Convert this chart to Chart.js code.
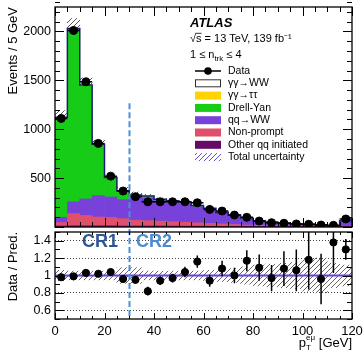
<!DOCTYPE html>
<html>
<head>
<meta charset="utf-8">
<script src="https://cdn.jsdelivr.net/npm/chart.js@4.4.1/dist/chart.umd.min.js"></script>
<style>
  body { margin: 0; background: #fff; }
  canvas { position: absolute; left: 0; }
  #main { top: 0; }
  #ratio { top: 229px; }
</style>
</head>
<body>
<canvas id="main" width="363" height="229"></canvas>
<canvas id="ratio" width="363" height="130"></canvas>
<script>
// p_T^emu bins, 5 GeV wide
const binCenters = [2.5, 7.5, 12.5, 17.5, 22.5, 27.5, 32.5, 37.5, 42.5, 47.5, 52.5, 57.5,
  62.5, 67.5, 72.5, 77.5, 82.5, 87.5, 92.5, 97.5, 102.5, 107.5, 112.5, 117.5];
const binHalfWidth = 2.5;

const dataEvents = [1110, 2010, 1485, 855, 520, 368, 310, 258, 258, 258, 258, 248,
  180, 163, 122, 99, 61, 44, 38, 31, 28, 20, 17, 82];

// stacked predictions (bottom to top)
const otherQQ   = [10, 12, 12, 12, 12, 10, 10, 10, 10, 9, 8, 8, 7, 6, 5, 5, 4, 4, 3, 3, 3, 2, 2, 3];
const nonPrompt = [35, 125, 105, 90, 85, 75, 60, 55, 50, 45, 40, 35, 30, 25, 20, 15, 12, 10, 8, 6, 5, 4, 3, 6];
const qqWW      = [55, 120, 170, 220, 210, 195, 230, 230, 205, 200, 195, 165, 145, 110, 88, 65, 42, 33, 25, 18, 17, 14, 5, 50];
const drellYan  = [1020, 1770, 1160, 520, 195, 88, 25, 20, 15, 12, 10, 8, 6, 5, 4, 3, 3, 2, 2, 1, 1, 1, 1, 2];
const aaTauTau  = [2, 3, 3, 2, 2, 2, 1, 1, 1, 1, 1, 1, 1, 1, 1, 1, 1, 1, 1, 1, 1, 1, 1, 1];
const aaWW      = [1, 1, 2, 2, 2, 2, 2, 2, 2, 2, 2, 2, 2, 2, 2, 2, 1, 1, 1, 1, 1, 1, 1, 1];

// ratio panel
const ratioValues = [0.98, 0.99, 1.03, 1.02, 1.04, 0.96, 0.95, 0.82, 0.94, 0.97, 1.04, 1.16,
  0.94, 1.08, 1.00, 1.17, 1.09, 0.97, 1.08, 1.06, 1.18, 0.96, 1.38, 1.30];
const ratioErrors = [0.02, 0.02, 0.02, 0.03, 0.03, 0.03, 0.04, 0.05, 0.05, 0.05, 0.06, 0.07,
  0.07, 0.09, 0.09, 0.12, 0.15, 0.15, 0.20, 0.24, 0.34, 0.29, 0.35, 0.12];
const relUncertainty = [0.06, 0.05, 0.05, 0.05, 0.05, 0.09, 0.09, 0.05, 0.05, 0.05, 0.05, 0.05,
  0.06, 0.07, 0.08, 0.10, 0.12, 0.13, 0.14, 0.15, 0.18, 0.20, 0.14, 0.12];

const xTicks = [0, 20, 40, 60, 80, 100, 120];
const yTicksMain = [500, 1000, 1500, 2000];
const yTicksRatio = [0.6, 0.8, 1, 1.2, 1.4];
const crBoundary = 30;

const legendLabels = ['Data', 'γγ→WW', 'γγ→ττ', 'Drell-Yan', 'qq→WW', 'Non-prompt', 'Other qq initiated', 'Total uncertainty'];
const colors = {
  aaWW: '#ffffff', aaTauTau: '#ffd400', dy: '#16cc16', qqWW: '#7741da',
  nonPrompt: '#e0506a', other: '#650a66', outline: '#1c1f70', unity: '#6a3fe6',
  dashed: '#4a8fd8', cr1: '#2b5595', cr2: '#4a8bd4'
};

const FONT = '"Liberation Sans", Arial, Helvetica, sans-serif';
Chart.defaults.font.family = FONT;
Chart.defaults.font.size = 13;
Chart.defaults.color = '#000';

const totals = binCenters.map((_, i) =>
  otherQQ[i] + nonPrompt[i] + qqWW[i] + drellYan[i] + aaTauTau[i] + aaWW[i]);

function makeHatch(ctx, color) {
  const c = document.createElement('canvas');
  c.width = 5; c.height = 5;
  const g = c.getContext('2d');
  g.strokeStyle = color;
  g.lineWidth = 1;
  g.beginPath();
  g.moveTo(0, 5); g.lineTo(5, 0);
  g.moveTo(-1, 1); g.lineTo(1, -1);
  g.moveTo(4, 6); g.lineTo(6, 4);
  g.stroke();
  return ctx.createPattern(c, 'repeat');
}

// keep the plot frame exactly where the layout padding puts it
const noScalePadding = s => {
  s.paddingTop = 0; s.paddingBottom = 0; s.paddingLeft = 0; s.paddingRight = 0;
};

// ROOT style inner ticks + frame
const frameTicks = {
  id: 'frameTicks',
  afterDatasetsDraw(chart, args, o) {
    const { ctx, chartArea: a, scales } = chart;
    const xs = scales.x, ys = scales.y;
    ctx.save();
    ctx.strokeStyle = '#000';
    ctx.lineWidth = 1;
    ctx.beginPath();
    const nx = Math.round((xs.max - xs.min) / o.xMinor);
    for (let k = 0; k <= nx; k++) {
      const v = xs.min + k * o.xMinor;
      const p = Math.round(xs.getPixelForValue(v)) + 0.5;
      const r = v / o.xMajor;
      const len = Math.abs(r - Math.round(r)) < 1e-6 ? o.xMajorLen : o.xMinorLen;
      ctx.moveTo(p, a.bottom); ctx.lineTo(p, a.bottom - len);
      ctx.moveTo(p, a.top); ctx.lineTo(p, a.top + len);
    }
    const ny = Math.round((ys.max - ys.min) / o.yMinor);
    for (let k = 0; k <= ny; k++) {
      const v = ys.min + k * o.yMinor;
      const p = Math.round(ys.getPixelForValue(v)) + 0.5;
      const r = v / o.yMajor;
      const len = Math.abs(r - Math.round(r)) < 1e-6 ? o.yMajorLen : o.yMinorLen;
      ctx.moveTo(a.left, p); ctx.lineTo(a.left + len, p);
      ctx.moveTo(a.right, p); ctx.lineTo(a.right - len, p);
    }
    ctx.stroke();
    ctx.lineWidth = 1.3;
    ctx.strokeRect(a.left, a.top, a.right - a.left, a.bottom - a.top);
    ctx.restore();
  }
};

// vertical error bars (and optional bin-width bars) for datasets carrying "errors"
const errorBars = {
  id: 'errorBars',
  afterDatasetsDraw(chart) {
    const { ctx, chartArea: a, scales } = chart;
    ctx.save();
    ctx.beginPath();
    ctx.rect(a.left, a.top, a.right - a.left, a.bottom - a.top);
    ctx.clip();
    chart.data.datasets.forEach((ds) => {
      if (!ds.errors) return;
      ctx.strokeStyle = '#000';
      ctx.lineWidth = 1.5;
      ctx.beginPath();
      ds.data.forEach((pt, i) => {
        const px = scales.x.getPixelForValue(pt.x);
        const e = ds.errors[i];
        ctx.moveTo(px, scales.y.getPixelForValue(pt.y + e));
        ctx.lineTo(px, scales.y.getPixelForValue(pt.y - e));
        if (ds.xBars) {
          const py = scales.y.getPixelForValue(pt.y);
          ctx.moveTo(scales.x.getPixelForValue(pt.x - binHalfWidth), py);
          ctx.lineTo(scales.x.getPixelForValue(pt.x + binHalfWidth), py);
        }
      });
      ctx.stroke();
    });
    ctx.restore();
  }
};

const crLine = {
  id: 'crLine',
  afterDatasetsDraw(chart, args, o) {
    const { ctx, chartArea: a, scales } = chart;
    const x = Math.round(scales.x.getPixelForValue(crBoundary)) + 0.5;
    const y0 = o.fromValue != null ? scales.y.getPixelForValue(o.fromValue) : 0;
    const y1 = o.toCanvasBottom ? chart.height : a.bottom;
    ctx.save();
    ctx.strokeStyle = colors.dashed;
    ctx.lineWidth = 2;
    ctx.setLineDash([6, 3]);
    ctx.beginPath();
    ctx.moveTo(x, y0); ctx.lineTo(x, y1);
    ctx.stroke();
    ctx.restore();
  }
};

function drawScript(ctx, parts, x, y) {
  let cx = x;
  parts.forEach(([t, size, dy, weight]) => {
    ctx.font = (weight || '') + ' ' + size + 'px ' + FONT;
    ctx.fillText(t, cx, y + dy);
    cx += ctx.measureText(t).width;
  });
  return cx - x;
}
function measureScript(ctx, parts) {
  let w = 0;
  parts.forEach(([t, size, dy, weight]) => {
    ctx.font = (weight || '') + ' ' + size + 'px ' + FONT;
    w += ctx.measureText(t).width;
  });
  return w;
}

const mainTexts = {
  id: 'mainTexts',
  afterDraw(chart) {
    const { ctx } = chart;
    const hatchLegend = makeHatch(ctx, '#5a4fcf');
    ctx.save();
    ctx.fillStyle = '#000';
    ctx.textBaseline = 'alphabetic';
    ctx.textAlign = 'left';
    ctx.font = 'italic bold 13px ' + FONT;
    ctx.fillText('ATLAS', 190, 27);
    ctx.font = '11px ' + FONT;
    ctx.fillText('√s = 13 TeV, 139 fb⁻¹', 190, 41.5);
    const rw = ctx.measureText('√').width;
    const sw = ctx.measureText('s').width;
    ctx.lineWidth = 0.8;
    ctx.beginPath();
    ctx.moveTo(190 + rw - 0.5, 33.3); ctx.lineTo(190 + rw + sw, 33.3);
    ctx.stroke();
    drawScript(ctx, [['1 ≤ n', 11, 0], ['trk', 8, 3], [' ≤ 4', 11, 0]], 190, 58);

    // legend
    const sx = 195, sw2 = 26, tx = 228;
    ctx.font = '10.5px ' + FONT;
    ctx.textBaseline = 'middle';
    const fills = [null, colors.aaWW, colors.aaTauTau, colors.dy, colors.qqWW, colors.nonPrompt, colors.other, null];
    legendLabels.forEach((lab, i) => {
      const y = 71 + i * 12.3;
      if (i === 0) {
        ctx.strokeStyle = '#000'; ctx.lineWidth = 1.5;
        ctx.beginPath(); ctx.moveTo(sx, y); ctx.lineTo(sx + sw2, y); ctx.stroke();
        ctx.beginPath(); ctx.arc(sx + sw2 / 2, y, 3.8, 0, Math.PI * 2); ctx.fillStyle = '#000'; ctx.fill();
      } else if (i === 7) {
        ctx.fillStyle = hatchLegend;
        ctx.fillRect(sx, y - 4, sw2, 8);
      } else {
        ctx.fillStyle = fills[i];
        ctx.fillRect(sx, y - 4, sw2, 8);
        if (i === 1) { ctx.strokeStyle = '#333'; ctx.lineWidth = 1; ctx.strokeRect(sx + 0.5, y - 3.5, sw2 - 1, 7); }
      }
      ctx.fillStyle = '#000';
      ctx.fillText(lab, tx, y);
    });
    ctx.restore();
  }
};

const ratioTexts = {
  id: 'ratioTexts',
  afterDraw(chart) {
    const { ctx, scales } = chart;
    ctx.save();
    ctx.textAlign = 'center';
    ctx.textBaseline = 'alphabetic';
    ctx.font = 'bold 18px ' + FONT;
    const ty = scales.y.getPixelForValue(1.33);
    ctx.fillStyle = colors.cr1;
    ctx.fillText('CR1', scales.x.getPixelForValue(18.2), ty);
    ctx.fillStyle = colors.cr2;
    ctx.fillText('CR2', scales.x.getPixelForValue(40), ty);
    // x title  p_T^{e mu} [GeV]
    ctx.textAlign = 'left';
    ctx.fillStyle = '#000';
    const a = chart.chartArea;
    const parts1 = [['p', 13, 0]];
    const rest = [[' [GeV]', 13, 0]];
    ctx.font = '8px ' + FONT;
    const scriptW = Math.max(ctx.measureText('T').width, ctx.measureText('eμ').width);
    const total = measureScript(ctx, parts1) + scriptW + measureScript(ctx, rest);
    let x = a.right - total;
    const base = 347 - 229;
    x += drawScript(ctx, parts1, x, base);
    ctx.font = '8px ' + FONT;
    ctx.fillText('eμ', x, base - 7);
    ctx.fillText('T', x, base + 3);
    x += scriptW;
    drawScript(ctx, rest, x, base);
    ctx.restore();
  }
};

// ---------------- main panel ----------------
const mainCtx = document.getElementById('main').getContext('2d');
const hatchMain = makeHatch(mainCtx, '#555');
const pts = arr => binCenters.map((x, i) => ({ x, y: arr[i] }));
const outline = binCenters.map((x, i) => ({ x: x - binHalfWidth, y: totals[i] }));
outline.push({ x: binCenters[binCenters.length - 1] + binHalfWidth, y: totals[totals.length - 1] });

const barDs = (label, arr, color) => ({
  type: 'bar', label, data: pts(arr), backgroundColor: color, borderWidth: 0,
  stack: 'mc', grouped: false, barPercentage: 1, categoryPercentage: 1
});

new Chart(mainCtx, {
  type: 'bar',
  data: {
    datasets: [
      {
        type: 'line', label: 'Data', data: pts(dataEvents), showLine: false,
        pointRadius: 4, pointBackgroundColor: '#000', pointBorderColor: '#000',
        stack: 'data', xBars: true,
        errors: dataEvents.map((d, i) => d * ratioErrors[i] / ratioValues[i])
      },
      {
        type: 'line', label: 'outline', data: outline, stepped: 'before',
        borderColor: colors.outline, borderWidth: 1.5, pointRadius: 0, stack: 'outline'
      },
      barDs('Other qq initiated', otherQQ, colors.other),
      barDs('Non-prompt', nonPrompt, colors.nonPrompt),
      barDs('qq→WW', qqWW, colors.qqWW),
      barDs('Drell-Yan', drellYan, colors.dy),
      barDs('γγ→ττ', aaTauTau, colors.aaTauTau),
      barDs('γγ→WW', aaWW, colors.aaWW),
      {
        type: 'bar', label: 'Total uncertainty',
        data: binCenters.map((x, i) => ({ x, y: [totals[i] * (1 - relUncertainty[i]), totals[i] * (1 + relUncertainty[i])] })),
        backgroundColor: hatchMain, borderWidth: 0, stack: 'unc', grouped: false,
        barPercentage: 1, categoryPercentage: 1
      }
    ]
  },
  options: {
    responsive: false,
    animation: false,
    layout: { padding: { left: 0, right: 11, top: 7, bottom: 2 }, autoPadding: false },
    plugins: {
      legend: { display: false },
      tooltip: { enabled: false },
      frameTicks: { xMinor: 5, xMajor: 20, xMajorLen: 9, xMinorLen: 5, yMinor: 100, yMajor: 500, yMajorLen: 9, yMinorLen: 5 },
      crLine: { fromValue: 1265, toCanvasBottom: true }
    },
    scales: {
      x: { type: 'linear', min: 0, max: 120, offset: false, display: false, afterFit: noScalePadding },
      y: {
        min: 0, max: 2250, stacked: true,
        afterFit: s => { s.width = 55; noScalePadding(s); },
        afterBuildTicks: s => { s.ticks = yTicksMain.map(v => ({ value: v })); },
        grid: { display: false, drawTicks: false, tickLength: 0 },
        border: { display: false },
        ticks: { padding: 4, font: { size: 12.5 }, color: '#000', callback: v => String(v) },
        title: { display: true, text: 'Events / 5 GeV', align: 'end', font: { size: 13 }, padding: { top: 6, bottom: 0 } }
      }
    }
  },
  plugins: [errorBars, crLine, frameTicks, mainTexts]
});

// ---------------- ratio panel ----------------
const ratioCtx = document.getElementById('ratio').getContext('2d');
const hatchRatio = makeHatch(ratioCtx, '#666');

new Chart(ratioCtx, {
  type: 'bar',
  data: {
    datasets: [
      {
        type: 'line', label: 'Data / Pred.', data: pts(ratioValues), showLine: false,
        pointRadius: 3.6, pointBackgroundColor: '#000', pointBorderColor: '#000',
        errors: ratioErrors
      },
      {
        type: 'line', label: 'unity', data: [{ x: 0, y: 1 }, { x: 120, y: 1 }],
        borderColor: colors.unity, borderWidth: 2, pointRadius: 0
      },
      {
        type: 'bar', label: 'band',
        data: binCenters.map((x, i) => ({ x, y: [1 - relUncertainty[i], 1 + relUncertainty[i]] })),
        backgroundColor: hatchRatio, borderWidth: 0, grouped: false,
        barPercentage: 1, categoryPercentage: 1
      }
    ]
  },
  options: {
    responsive: false,
    animation: false,
    layout: { padding: { left: 0, right: 11, top: 3, bottom: 0 }, autoPadding: false },
    plugins: {
      legend: { display: false },
      tooltip: { enabled: false },
      frameTicks: { xMinor: 5, xMajor: 20, xMajorLen: 6, xMinorLen: 3, yMinor: 0.1, yMajor: 0.2, yMajorLen: 9, yMinorLen: 5 },
      crLine: { fromValue: null, toCanvasBottom: false }
    },
    scales: {
      x: {
        type: 'linear', min: 0, max: 120, offset: false,
        afterFit: s => { s.height = 40; noScalePadding(s); },
        afterBuildTicks: s => { s.ticks = xTicks.map(v => ({ value: v })); },
        grid: { display: false, drawTicks: false },
        border: { display: false },
        ticks: { padding: 5, maxRotation: 0, autoSkip: false, font: { size: 13 }, color: '#000', callback: v => String(v) }
      },
      y: {
        min: 0.5, max: 1.5,
        afterFit: s => { s.width = 55; noScalePadding(s); },
        afterBuildTicks: s => { s.ticks = yTicksRatio.map(v => ({ value: v })); },
        grid: {
          drawTicks: false, lineWidth: 1,
          color: c => (c.tick && Math.abs(c.tick.value - 1) < 1e-6) ? 'rgba(0,0,0,0)' : '#444'
        },
        border: { display: false, dash: [1, 2] },
        ticks: {
          padding: 4, font: { size: 12.5 }, color: '#000',
          callback: v => (Math.abs(v - 1) < 1e-6 ? '1' : v.toFixed(1))
        },
        title: { display: true, text: 'Data / Pred.', align: 'end', font: { size: 13 }, padding: { top: 6, bottom: 0 } }
      }
    }
  },
  plugins: [errorBars, crLine, frameTicks, ratioTexts]
});
</script>
</body>
</html>
